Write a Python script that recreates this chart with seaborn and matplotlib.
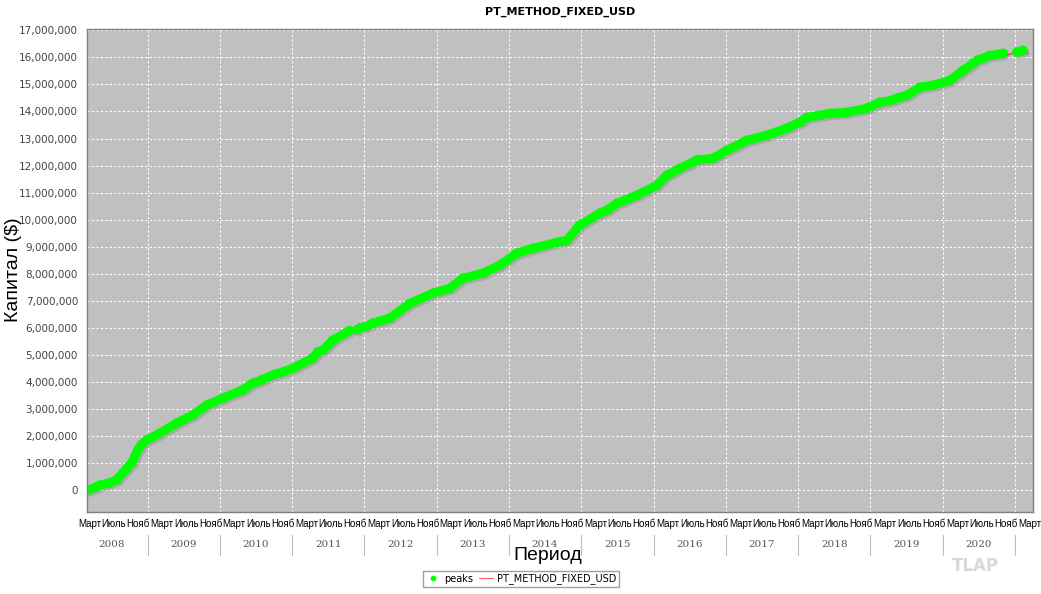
import pandas as pd
import numpy as np
import matplotlib
matplotlib.use('Agg')
import matplotlib.pyplot as plt
import matplotlib.patheffects as pe
import matplotlib.transforms as mtransforms
from matplotlib.lines import Line2D
import seaborn as sns

# equity curve (values in millions of USD)
dates = ['2008-03-03', '2008-04-10', '2008-05-03', '2008-06-15', '2008-07-28',
         '2008-08-28', '2008-09-20', '2008-10-12', '2008-11-12', '2008-12-01',
         '2008-12-27', '2009-03-03', '2009-05-28', '2009-08-16', '2009-10-26',
         '2010-01-15', '2010-04-25', '2010-06-15', '2010-07-30', '2010-09-25',
         '2011-01-03', '2011-04-15', '2011-05-10', '2011-06-05', '2011-07-25',
         '2011-10-18', '2011-11-05', '2011-11-25', '2011-12-10', '2012-01-10',
         '2012-02-12', '2012-05-08', '2012-08-17', '2012-12-12', '2013-03-07',
         '2013-05-12', '2013-08-21', '2013-11-14', '2014-02-09', '2014-05-01',
         '2014-08-30', '2014-10-20', '2014-12-24', '2015-04-05', '2015-05-10',
         '2015-06-30', '2015-10-08', '2016-01-17', '2016-03-08', '2016-05-13',
         '2016-08-07', '2016-10-27', '2017-01-05', '2017-04-16', '2017-07-26',
         '2017-11-04', '2018-01-09', '2018-02-14', '2018-04-20', '2018-06-10',
         '2018-09-04', '2018-12-14', '2019-02-18', '2019-04-10', '2019-05-15',
         '2019-07-04', '2019-09-08', '2019-11-12', '2020-02-06', '2020-04-13',
         '2020-06-23', '2020-08-27', '2020-11-01', '2020-11-20', '2020-12-06',
         '2021-01-10', '2021-02-09', '2021-03-06']
equity_m = [0.00, 0.10, 0.18, 0.25, 0.37,
            0.63, 0.82, 1.00, 1.48, 1.68,
            1.85, 2.10, 2.48, 2.77, 3.14,
            3.40, 3.70, 3.95, 4.07, 4.25,
            4.50, 4.88, 5.10, 5.17, 5.54,
            5.90, 5.84, 5.93, 5.99, 6.05,
            6.17, 6.36, 6.90, 7.28, 7.46,
            7.83, 8.02, 8.31, 8.76, 8.94,
            9.16, 9.24, 9.80, 10.24, 10.35,
            10.60, 10.90, 11.27, 11.64, 11.90,
            12.20, 12.27, 12.56, 12.93, 13.12,
            13.38, 13.60, 13.78, 13.86, 13.93,
            13.97, 14.12, 14.34, 14.40, 14.49,
            14.60, 14.90, 14.97, 15.15, 15.52,
            15.89, 16.07, 16.15, 16.09, 16.12,
            16.19, 16.26, 16.15]

month_names = ['Март', 'Июль', 'Нояб']
years = list(range(2008, 2021))

df = pd.DataFrame({'date': pd.to_datetime(dates),
                   'equity': np.array(equity_m) * 1e6})
df['peak'] = df['equity'].where(df['equity'] >= df['equity'].cummax())

sns.set_style('white')
plt.rcParams['font.family'] = ['DejaVu Sans']
plt.rcParams['text.color'] = 'black'
narrow = ['Liberation Sans', 'DejaVu Sans']

fig = plt.figure(figsize=(10.41, 5.94), dpi=100)
ax = fig.add_axes([0.0836, 0.138, 0.9087, 0.8132])
ax.set_facecolor('#c0c0c0')

shadow = [pe.SimpleLineShadow(offset=(1.5, -1.5), shadow_color='#808080', alpha=0.35), pe.Normal()]

sns.lineplot(data=df, x='date', y='equity', ax=ax, color='#ff4a4a', linewidth=1.2)
ax.plot(df['date'], df['peak'], color='#00ff00', linewidth=6.5,
        solid_capstyle='round', path_effects=shadow)
sns.scatterplot(data=df, x='date', y='peak', ax=ax, color='#00ff00', s=48,
                edgecolor='none')

x0 = pd.Timestamp('2008-03-01')
x1 = pd.Timestamp('2021-04-01')
ax.set_xlim(x0, x1)
ax.set_ylim(-810000, 17050000)

# gridlines: years on x, 1M steps on y
ax.set_yticks(np.arange(0, 17000001, 1000000))
ax.yaxis.set_major_formatter(matplotlib.ticker.FuncFormatter(lambda v, p: f'{int(v):,}'))
ax.tick_params(axis='y', labelsize=7.5, labelcolor='#444444', length=3, color='#888888')
year_starts = [pd.Timestamp(f'{y}-01-01') for y in range(2009, 2022)]
for ys in year_starts:
    ax.axvline(ys, color='white', linestyle=(0, (2, 2)), linewidth=0.8, zorder=0.5)
for yv in np.arange(0, 17000001, 1000000):
    ax.axhline(yv, color='white', linestyle=(0, (2, 2)), linewidth=0.8, zorder=0.5)

# month ticks (middle of Mar/Jul/Nov)
mticks = []
mlabels = []
for y in range(2008, 2022):
    for m, name in zip([3, 7, 11], month_names):
        t = pd.Timestamp(y, m, 15)
        if x0 <= t <= x1:
            mticks.append(t)
            mlabels.append(name)
ax.set_xticks(mticks)
ax.set_xticklabels(mlabels, fontsize=7, color='black', family=narrow)
ax.tick_params(axis='x', length=0, pad=5)

trans = mtransforms.blended_transform_factory(ax.transData, ax.transAxes)
for y in years:
    mid = pd.Timestamp(y, 7, 2)
    ax.text(mid, -0.058, str(y), transform=trans, ha='center', va='top',
            fontsize=7.5, color='#555555', family=['DejaVu Serif'])
for ys in year_starts:
    ax.plot([ys, ys], [-0.048, -0.088], transform=trans, color='#bbbbbb',
            linewidth=0.8, clip_on=False)

ax.set_xlabel('')
ax.set_ylabel('')
for s in ax.spines.values():
    s.set_color('#808080')
    s.set_linewidth(1.0)

fig.text(560 / 1041, 1 - 12 / 594, 'PT_METHOD_FIXED_USD', ha='center', va='center',
         fontsize=8, fontweight='bold', color='black')
fig.text(14 / 1041, 1 - 270 / 594, 'Капитал ($)', rotation=90, ha='center', va='center',
         fontsize=14, family=narrow, color='black')
fig.text(548 / 1041, 1 - 556 / 594, 'Период', ha='center', va='center',
         fontsize=14, family=narrow, color='black')
fig.text(975 / 1041, 1 - 566 / 594, 'TLAP', ha='center', va='center',
         fontsize=12, fontweight='bold', color='#d8d8d8')

handles = [Line2D([], [], marker='o', color='#00ff00', linestyle='none', markersize=3),
           Line2D([], [], color='#ff6060', linewidth=0.8)]
leg = fig.legend(handles, ['peaks', 'PT_METHOD_FIXED_USD'], loc='center',
                 bbox_to_anchor=(521 / 1041, 1 - 579 / 594), ncol=2, fontsize=7,
                 frameon=True, fancybox=False, edgecolor='#888888', handlelength=1.5,
                 columnspacing=0.6, handletextpad=0.4, borderpad=0.3)
for t in leg.get_texts():
    t.set_color('black')

fig.savefig('out.png', dpi=100, facecolor='white')
